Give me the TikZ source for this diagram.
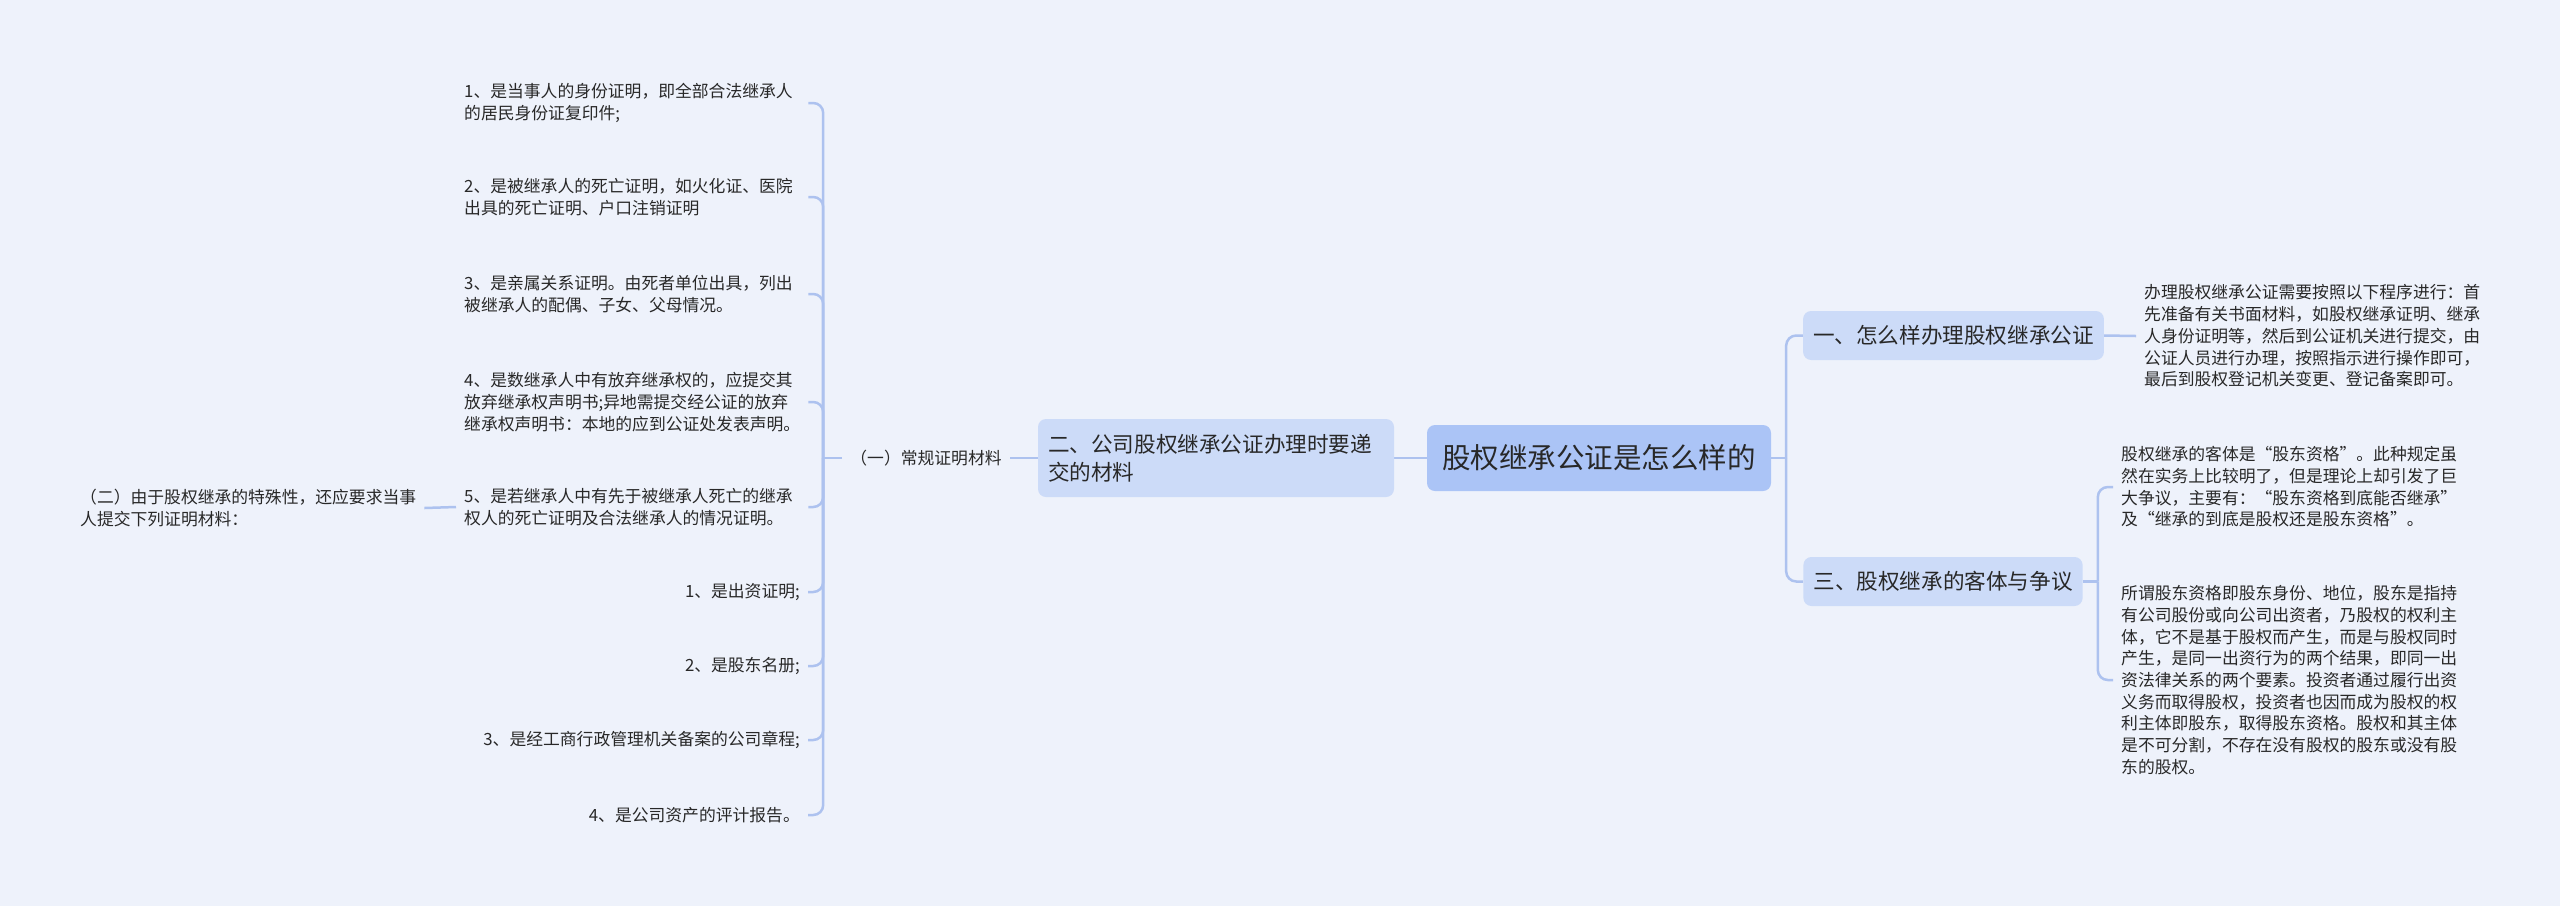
\documentclass[tikz,border=0pt]{standalone}
\usepackage{fontspec}
\setmainfont{Noto Sans CJK SC}
\usetikzlibrary{backgrounds}
\definecolor{bgc}{RGB}{238,242,251}
\definecolor{lc}{RGB}{173,194,239}
\definecolor{rootc}{RGB}{171,196,246}
\definecolor{lonec}{RGB}{204,219,248}
\definecolor{txt}{RGB}{40,40,40}
\begin{document}
\begin{tikzpicture}[x=1pt,y=-1pt,
  conn/.style={draw=lc, line width=2.5pt, rounded corners=10pt},
  rootbox/.style={fill=rootc, rounded corners=8pt, minimum width=344pt, minimum height=66pt, inner sep=0pt, font=\fontsize{28.5}{34}\selectfont, text=txt},
  lvbox/.style={fill=lonec, rounded corners=8pt, minimum height=49pt, inner xsep=10pt, inner ysep=0pt, font=\fontsize{21.6}{28}\selectfont, text=txt},
  leaf/.style={font=\fontsize{16.8}{21.7}\selectfont, inner xsep=8pt, inner ysep=0pt, text=txt},
  wleaf/.style={leaf, anchor=west, text width=336pt, align=left},
  rleaf/.style={leaf, anchor=east, align=right},
  pleaf/.style={leaf, anchor=west, align=left}]
\useasboundingbox (0,0) rectangle (2560,906);

% central and level-one nodes
\node[rootbox] (root) at (1599,458) {股权继承公证是怎么样的};
\node[lvbox, minimum height=78pt, text width=336pt, align=left] (two) at (1216,458) {二、公司股权继承公证办理时要递\\交的材料};
\node[lvbox] (one) at (1953.5,335.5) {一、怎么样办理股权继承公证};
\node[lvbox] (three) at (1943,581.5) {三、股权继承的客体与争议};

% left branch
\node[leaf] (yi) at (926,458) {（一）常规证明材料};
\node[wleaf] (u1) at (456,103) {1、是当事人的身份证明，即全部合法继承人\\的居民身份证复印件;};
\node[wleaf] (u2) at (456,197) {2、是被继承人的死亡证明，如火化证、医院\\出具的死亡证明、户口注销证明};
\node[wleaf] (u3) at (456,294) {3、是亲属关系证明。由死者单位出具，列出\\被继承人的配偶、子女、父母情况。};
\node[wleaf] (u4) at (456,402) {4、是数继承人中有放弃继承权的，应提交其\\放弃继承权声明书;异地需提交经公证的放弃\\继承权声明书：本地的应到公证处发表声明。};
\node[wleaf] (u5) at (456,507) {5、是若继承人中有先于被继承人死亡的继承\\权人的死亡证明及合法继承人的情况证明。};
\node[rleaf] (l1) at (808,592) {1、是出资证明;};
\node[rleaf] (l2) at (808,666) {2、是股东名册;};
\node[rleaf] (l3) at (808,740) {3、是经工商行政管理机关备案的公司章程;};
\node[rleaf] (l4) at (808,815) {4、是公司资产的评计报告。};
\node[wleaf] (er) at (72,508) {（二）由于股权继承的特殊性，还应要求当事\\人提交下列证明材料：};

% right branch
\node[pleaf] (p1) at (2136,336) {办理股权继承公证需要按照以下程序进行：首\\先准备有关书面材料，如股权继承证明、继承\\人身份证明等，然后到公证机关进行提交，由\\公证人员进行办理，按照指示进行操作即可，\\最后到股权登记机关变更、登记备案即可。};
\node[pleaf] (p2a) at (2113,487) {股权继承的客体是“股东资格”。此种规定虽\\然在实务上比较明了，但是理论上却引发了巨\\大争议，主要有：“股东资格到底能否继承”\\及“继承的到底是股权还是股东资格”。};
\node[pleaf] (p2b) at (2113,680) {所谓股东资格即股东身份、地位，股东是指持\\有公司股份或向公司出资者，乃股权的权利主\\体，它不是基于股权而产生，而是与股权同时\\产生，是同一出资行为的两个结果，即同一出\\资法律关系的两个要素。投资者通过履行出资\\义务而取得股权，投资者也因而成为股权的权\\利主体即股东，取得股东资格。股权和其主体\\是不可分割，不存在没有股权的股东或没有股\\东的股权。};

\begin{pgfonlayer}{background}
\fill[bgc] (0,0) rectangle (2560,906);
\coordinate (lb) at ([xshift=-19pt]yi.west);
\coordinate (rb) at ([xshift=15pt]root.east);
\coordinate (tb) at ([xshift=15pt]three.east);
\draw[conn] (root.west) -- (two.east);
\draw[conn] (two.west) -- (yi.east);
\draw[conn] (yi.west) -- (lb);
\foreach \n in {u1,u2,u3,u4,u5,l1,l2,l3,l4}
  \draw[conn] (lb) |- (\n.east);
\draw[conn] (er.east) -- (u5.west);
\draw[conn] (root.east) -- (rb);
\draw[conn] (rb) |- (one.west);
\draw[conn] (rb) |- (three.west);
\draw[conn] (one.east) -- (p1.west);
\draw[conn] (three.east) -- (tb);
\draw[conn] (tb) |- (p2a.west);
\draw[conn] (tb) |- (p2b.west);
\end{pgfonlayer}
\end{tikzpicture}
\end{document}
